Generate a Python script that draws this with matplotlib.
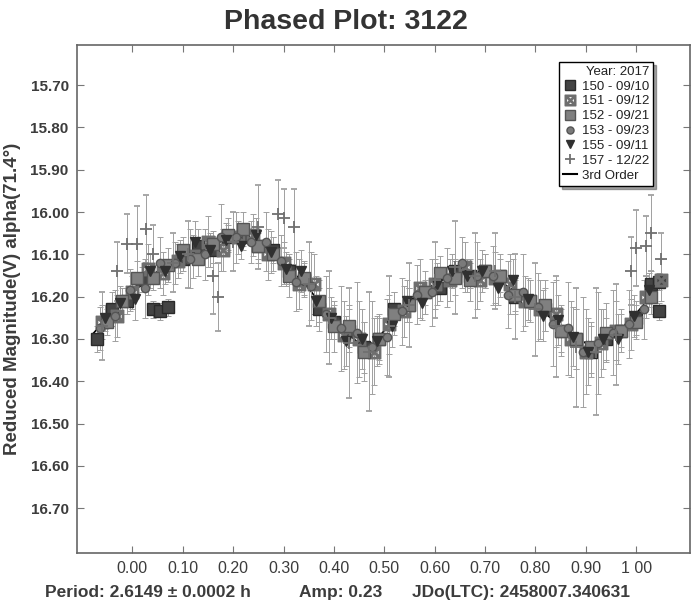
import matplotlib
matplotlib.use("Agg")
import matplotlib.pyplot as plt
from matplotlib.lines import Line2D

plt.rcParams['font.family'] = ['Liberation Sans', 'DejaVu Sans']

# --- data ---
s150_phase = [-0.07, -0.04, -0.01, 0.02, 0.04, 0.055, 0.07, 0.10, 0.13, 0.16, 0.19, 0.22, 0.25, 0.28,
              0.31, 0.34, 0.37, 0.40, 0.43, 0.46, 0.49, 0.52, 0.55, 0.58, 0.61, 0.64, 0.67, 0.70,
              0.73, 0.76, 0.79, 0.82, 0.85, 0.88, 0.91, 0.94, 0.97, 1.00, 1.03, 1.045, 1.045]
s150_mag = [16.30, 16.23, 16.21, 16.16, 16.23, 16.235, 16.225, 16.11, 16.08, 16.09, 16.06, 16.06, 16.08, 16.09,
            16.14, 16.16, 16.23, 16.26, 16.28, 16.32, 16.30, 16.23, 16.22, 16.19, 16.18, 16.14, 16.15, 16.14,
            16.15, 16.20, 16.21, 16.23, 16.28, 16.30, 16.33, 16.30, 16.28, 16.25, 16.17, 16.165, 16.235]
s150_err = [0.03, 0.04, 0.03, 0.03, 0.02, 0.02, 0.02, 0.03, 0.04, 0.03, 0.03, 0.03, 0.04, 0.03,
            0.03, 0.04, 0.05, 0.04, 0.05, 0.06, 0.05, 0.04, 0.04, 0.03, 0.03, 0.03, 0.03, 0.04,
            0.04, 0.04, 0.05, 0.05, 0.06, 0.07, 0.06, 0.05, 0.04, 0.04, 0.03, 0.02, 0.02]

s151_phase = [-0.06, -0.03, 0.00, 0.03, 0.06, 0.09, 0.12, 0.15, 0.18, 0.21, 0.24, 0.27, 0.30, 0.33,
              0.36, 0.39, 0.42, 0.45, 0.48, 0.51, 0.54, 0.57, 0.60, 0.63, 0.66, 0.69, 0.72, 0.75,
              0.78, 0.81, 0.84, 0.87, 0.90, 0.93, 0.96, 0.99, 1.02, 1.05]
s151_mag = [16.26, 16.245, 16.19, 16.135, 16.145, 16.115, 16.105, 16.07, 16.09, 16.06, 16.055, 16.10, 16.12, 16.17,
            16.17, 16.24, 16.29, 16.30, 16.33, 16.265, 16.235, 16.18, 16.17, 16.16, 16.13, 16.16, 16.155, 16.17,
            16.21, 16.23, 16.24, 16.30, 16.33, 16.31, 16.28, 16.265, 16.20, 16.16]
s151_err = [0.04, 0.05, 0.04, 0.06, 0.05, 0.04, 0.05, 0.06, 0.05, 0.04, 0.05, 0.06, 0.05, 0.06,
            0.07, 0.06, 0.08, 0.09, 0.08, 0.07, 0.06, 0.07, 0.06, 0.05, 0.06, 0.05, 0.06, 0.07,
            0.06, 0.07, 0.08, 0.09, 0.10, 0.08, 0.07, 0.06, 0.05, 0.05]

s152_phase = [-0.05, -0.02, 0.01, 0.04, 0.07, 0.10, 0.13, 0.16, 0.19, 0.22, 0.25, 0.28, 0.31, 0.34,
              0.37, 0.40, 0.43, 0.46, 0.49, 0.52, 0.55, 0.58, 0.61, 0.64, 0.67, 0.70, 0.73, 0.76,
              0.79, 0.82, 0.85, 0.88, 0.91, 0.94, 0.97, 1.00, 1.03]
s152_mag = [16.26, 16.21, 16.155, 16.155, 16.125, 16.09, 16.11, 16.075, 16.055, 16.04, 16.08, 16.10, 16.15, 16.155,
            16.21, 16.27, 16.27, 16.33, 16.30, 16.24, 16.22, 16.19, 16.145, 16.155, 16.16, 16.14, 16.15, 16.195,
            16.21, 16.22, 16.28, 16.30, 16.32, 16.285, 16.28, 16.26, 16.20]
s152_err = [0.03, 0.03, 0.04, 0.03, 0.04, 0.03, 0.04, 0.03, 0.04, 0.04, 0.03, 0.04, 0.05, 0.04,
            0.05, 0.06, 0.05, 0.07, 0.06, 0.05, 0.04, 0.05, 0.04, 0.04, 0.05, 0.04, 0.05, 0.04,
            0.05, 0.06, 0.05, 0.07, 0.06, 0.07, 0.05, 0.04, 0.04]

s153_phase = [-0.065, -0.035, -0.005, 0.025, 0.055, 0.085, 0.115, 0.145, 0.175, 0.205, 0.235, 0.265, 0.295,
              0.325, 0.355, 0.385, 0.415, 0.445, 0.475, 0.505, 0.535, 0.565, 0.595, 0.625, 0.655, 0.685,
              0.715, 0.745, 0.775, 0.805, 0.835, 0.865, 0.895, 0.925, 0.955, 0.985, 1.015]
s153_mag = [16.275, 16.245, 16.185, 16.18, 16.12, 16.12, 16.11, 16.10, 16.06, 16.06, 16.07, 16.07, 16.115,
            16.165, 16.175, 16.24, 16.275, 16.285, 16.32, 16.295, 16.235, 16.195, 16.19, 16.155, 16.12, 16.15,
            16.15, 16.195, 16.19, 16.225, 16.265, 16.275, 16.33, 16.31, 16.285, 16.265, 16.23]
s153_err = [0.05, 0.06, 0.05, 0.07, 0.06, 0.05, 0.07, 0.06, 0.08, 0.06, 0.05, 0.07, 0.06,
            0.07, 0.08, 0.09, 0.10, 0.12, 0.11, 0.09, 0.08, 0.07, 0.08, 0.07, 0.06, 0.08,
            0.07, 0.08, 0.09, 0.08, 0.10, 0.11, 0.13, 0.12, 0.10, 0.08, 0.07]

s155_phase = [-0.055, -0.025, 0.005, 0.035, 0.065, 0.095, 0.125, 0.155, 0.185, 0.215, 0.245, 0.275, 0.305,
              0.335, 0.365, 0.395, 0.425, 0.455, 0.485, 0.515, 0.545, 0.575, 0.605, 0.635, 0.665, 0.695,
              0.725, 0.755, 0.785, 0.815, 0.845, 0.875, 0.905, 0.935, 0.965, 0.995, 1.025]
s155_mag = [16.25, 16.215, 16.205, 16.14, 16.14, 16.105, 16.07, 16.09, 16.065, 16.08, 16.055, 16.095, 16.135,
            16.14, 16.21, 16.25, 16.305, 16.30, 16.305, 16.27, 16.21, 16.215, 16.17, 16.14, 16.15, 16.14,
            16.18, 16.16, 16.205, 16.245, 16.255, 16.295, 16.33, 16.30, 16.30, 16.245, 16.185]
s155_err = [0.03, 0.04, 0.05, 0.04, 0.03, 0.04, 0.05, 0.04, 0.04, 0.03, 0.04, 0.05, 0.04,
            0.05, 0.06, 0.05, 0.06, 0.07, 0.06, 0.05, 0.05, 0.04, 0.05, 0.04, 0.04, 0.05,
            0.04, 0.05, 0.05, 0.06, 0.06, 0.07, 0.08, 0.07, 0.06, 0.05, 0.04]

s157_phase = [-0.06, -0.03, -0.01, 0.01, 0.026, 0.04, 0.08, 0.11, 0.16, 0.17, 0.20, 0.25, 0.29, 0.30,
              0.32, 0.35, 0.39, 0.43, 0.47, 0.51, 0.55, 0.60, 0.64, 0.68, 0.72, 0.76, 0.80, 0.84,
              0.88, 0.92, 0.96, 0.99, 1.00, 1.02, 1.03, 1.05]
s157_mag = [16.27, 16.14, 16.075, 16.075, 16.04, 16.10, 16.12, 16.10, 16.15, 16.20, 16.07, 16.035, 16.005, 16.015,
            16.035, 16.17, 16.25, 16.31, 16.33, 16.27, 16.22, 16.16, 16.13, 16.15, 16.14, 16.20, 16.23, 16.27,
            16.32, 16.33, 16.29, 16.14, 16.085, 16.08, 16.05, 16.11]
s157_err = [0.08, 0.07, 0.07, 0.09, 0.08, 0.07, 0.07, 0.08, 0.09, 0.08, 0.07, 0.10, 0.08, 0.07,
            0.09, 0.10, 0.11, 0.13, 0.14, 0.12, 0.10, 0.09, 0.11, 0.10, 0.09, 0.10, 0.11, 0.12,
            0.14, 0.15, 0.12, 0.08, 0.09, 0.07, 0.09, 0.06]

# 3rd order fourier fit (mostly hidden under the points)
fit_phase = [-0.08, -0.05, -0.02, 0.00, 0.05, 0.10, 0.15, 0.20, 0.25, 0.30, 0.35, 0.40, 0.45, 0.48,
             0.50, 0.55, 0.60, 0.65, 0.70, 0.75, 0.80, 0.85, 0.90, 0.93, 0.95, 1.00, 1.05]
fit_mag = [16.29, 16.25, 16.21, 16.19, 16.14, 16.10, 16.08, 16.06, 16.07, 16.12, 16.18, 16.26, 16.31, 16.31,
           16.28, 16.21, 16.17, 16.14, 16.14, 16.18, 16.22, 16.27, 16.31, 16.31, 16.30, 16.24, 16.17]

x_ticks = [0.00, 0.10, 0.20, 0.30, 0.40, 0.50, 0.60, 0.70, 0.80, 0.90, 1.00]
x_tick_labels = ["0.00", "0.10", "0.20", "0.30", "0.40", "0.50", "0.60", "0.70", "0.80", "0.90", "1 00"]
y_ticks = [15.70, 15.80, 15.90, 16.00, 16.10, 16.20, 16.30, 16.40, 16.50, 16.60, 16.70]

sessions = [
    ("150 - 09/10", s150_phase, s150_mag, s150_err, dict(marker="s", ms=8, mfc="#444444", mec="#2a2a2a")),
    ("151 - 09/12", s151_phase, s151_mag, s151_err, dict(marker=r"$\boxtimes$", ms=9, mfc="#6e6e6e", mec="#6e6e6e")),
    ("152 - 09/21", s152_phase, s152_mag, s152_err, dict(marker="s", ms=8, mfc="#808080", mec="#555555")),
    ("153 - 09/23", s153_phase, s153_mag, s153_err, dict(marker="o", ms=6, mfc="#7a7a7a", mec="#555555")),
    ("155 - 09/11", s155_phase, s155_mag, s155_err, dict(marker="v", ms=7, mfc="#303030", mec="#303030")),
    ("157 - 12/22", s157_phase, s157_mag, s157_err, dict(marker="+", ms=9, mfc="#707070", mec="#707070", mew=1.3)),
]

txt = "#3c3c3c"
fig = plt.figure(figsize=(6.91, 6.05), dpi=100)
ax = fig.add_axes([77 / 691, 52 / 605, 613 / 691, 508 / 605])

ax.plot(fit_phase, fit_mag, color="black", lw=1.2, zorder=1)

handles = []
for label, ph, mag, err, style in sessions:
    ax.errorbar(ph, mag, yerr=err, ls="none", ecolor="#a0a0a0", elinewidth=0.7,
                capsize=2.5, capthick=0.7, zorder=2, **style)
    small = dict(style)
    small["ms"] = style["ms"] * 0.85
    handles.append(Line2D([], [], ls="none", label=label, **small))
handles.append(Line2D([], [], color="black", lw=1.5, label="3rd Order"))

ax.set_xlim(-0.11, 1.107)
ax.set_ylim(16.806, 15.605)
ax.set_xticks(x_ticks)
ax.set_xticklabels(x_tick_labels, fontsize=11.5, color=txt)
ax.set_yticks(y_ticks)
ax.set_yticklabels([f"{v:.2f}" for v in y_ticks], fontsize=11, fontweight="bold", color=txt)
ax.tick_params(direction="in", length=5, width=0.8, color="#777777",
               top=True, right=True, pad=6)
for sp in ax.spines.values():
    sp.set_color("#666666")
    sp.set_linewidth(1.2)

ax.set_ylabel("Reduced Magnitude(V) alpha(71.4\u00b0)", fontsize=13.5, fontweight="bold",
              color=txt, labelpad=7)

leg = ax.legend(handles=handles, title="Year: 2017", loc="upper right",
                bbox_to_anchor=(0.94, 0.967), fontsize=9.5, title_fontsize=9.5,
                frameon=True, fancybox=False, shadow=True, framealpha=1,
                edgecolor="black", handlelength=1.0, handletextpad=0.4,
                labelspacing=0.2, borderpad=0.3, borderaxespad=0, alignment="right")
leg.get_frame().set_linewidth(1.0)
for t in leg.get_texts():
    t.set_color("#222222")
leg.get_title().set_color("#222222")

fig.text(0.5, 0.963, "Phased Plot: 3122", ha="center", va="center",
         fontsize=20.5, fontweight="bold", color="#333333")

fig.text(45 / 691, 0.02, "Period: 2.6149 \u00b1 0.0002 h", ha="left", va="center",
         fontsize=12.5, fontweight="bold", color=txt)
fig.text(299 / 691, 0.02, "Amp: 0.23", ha="left", va="center",
         fontsize=12.5, fontweight="bold", color=txt)
fig.text(412 / 691, 0.02, "JDo(LTC): 2458007.340631", ha="left", va="center",
         fontsize=12.5, fontweight="bold", color=txt)

fig.savefig("out.png", dpi=100)
